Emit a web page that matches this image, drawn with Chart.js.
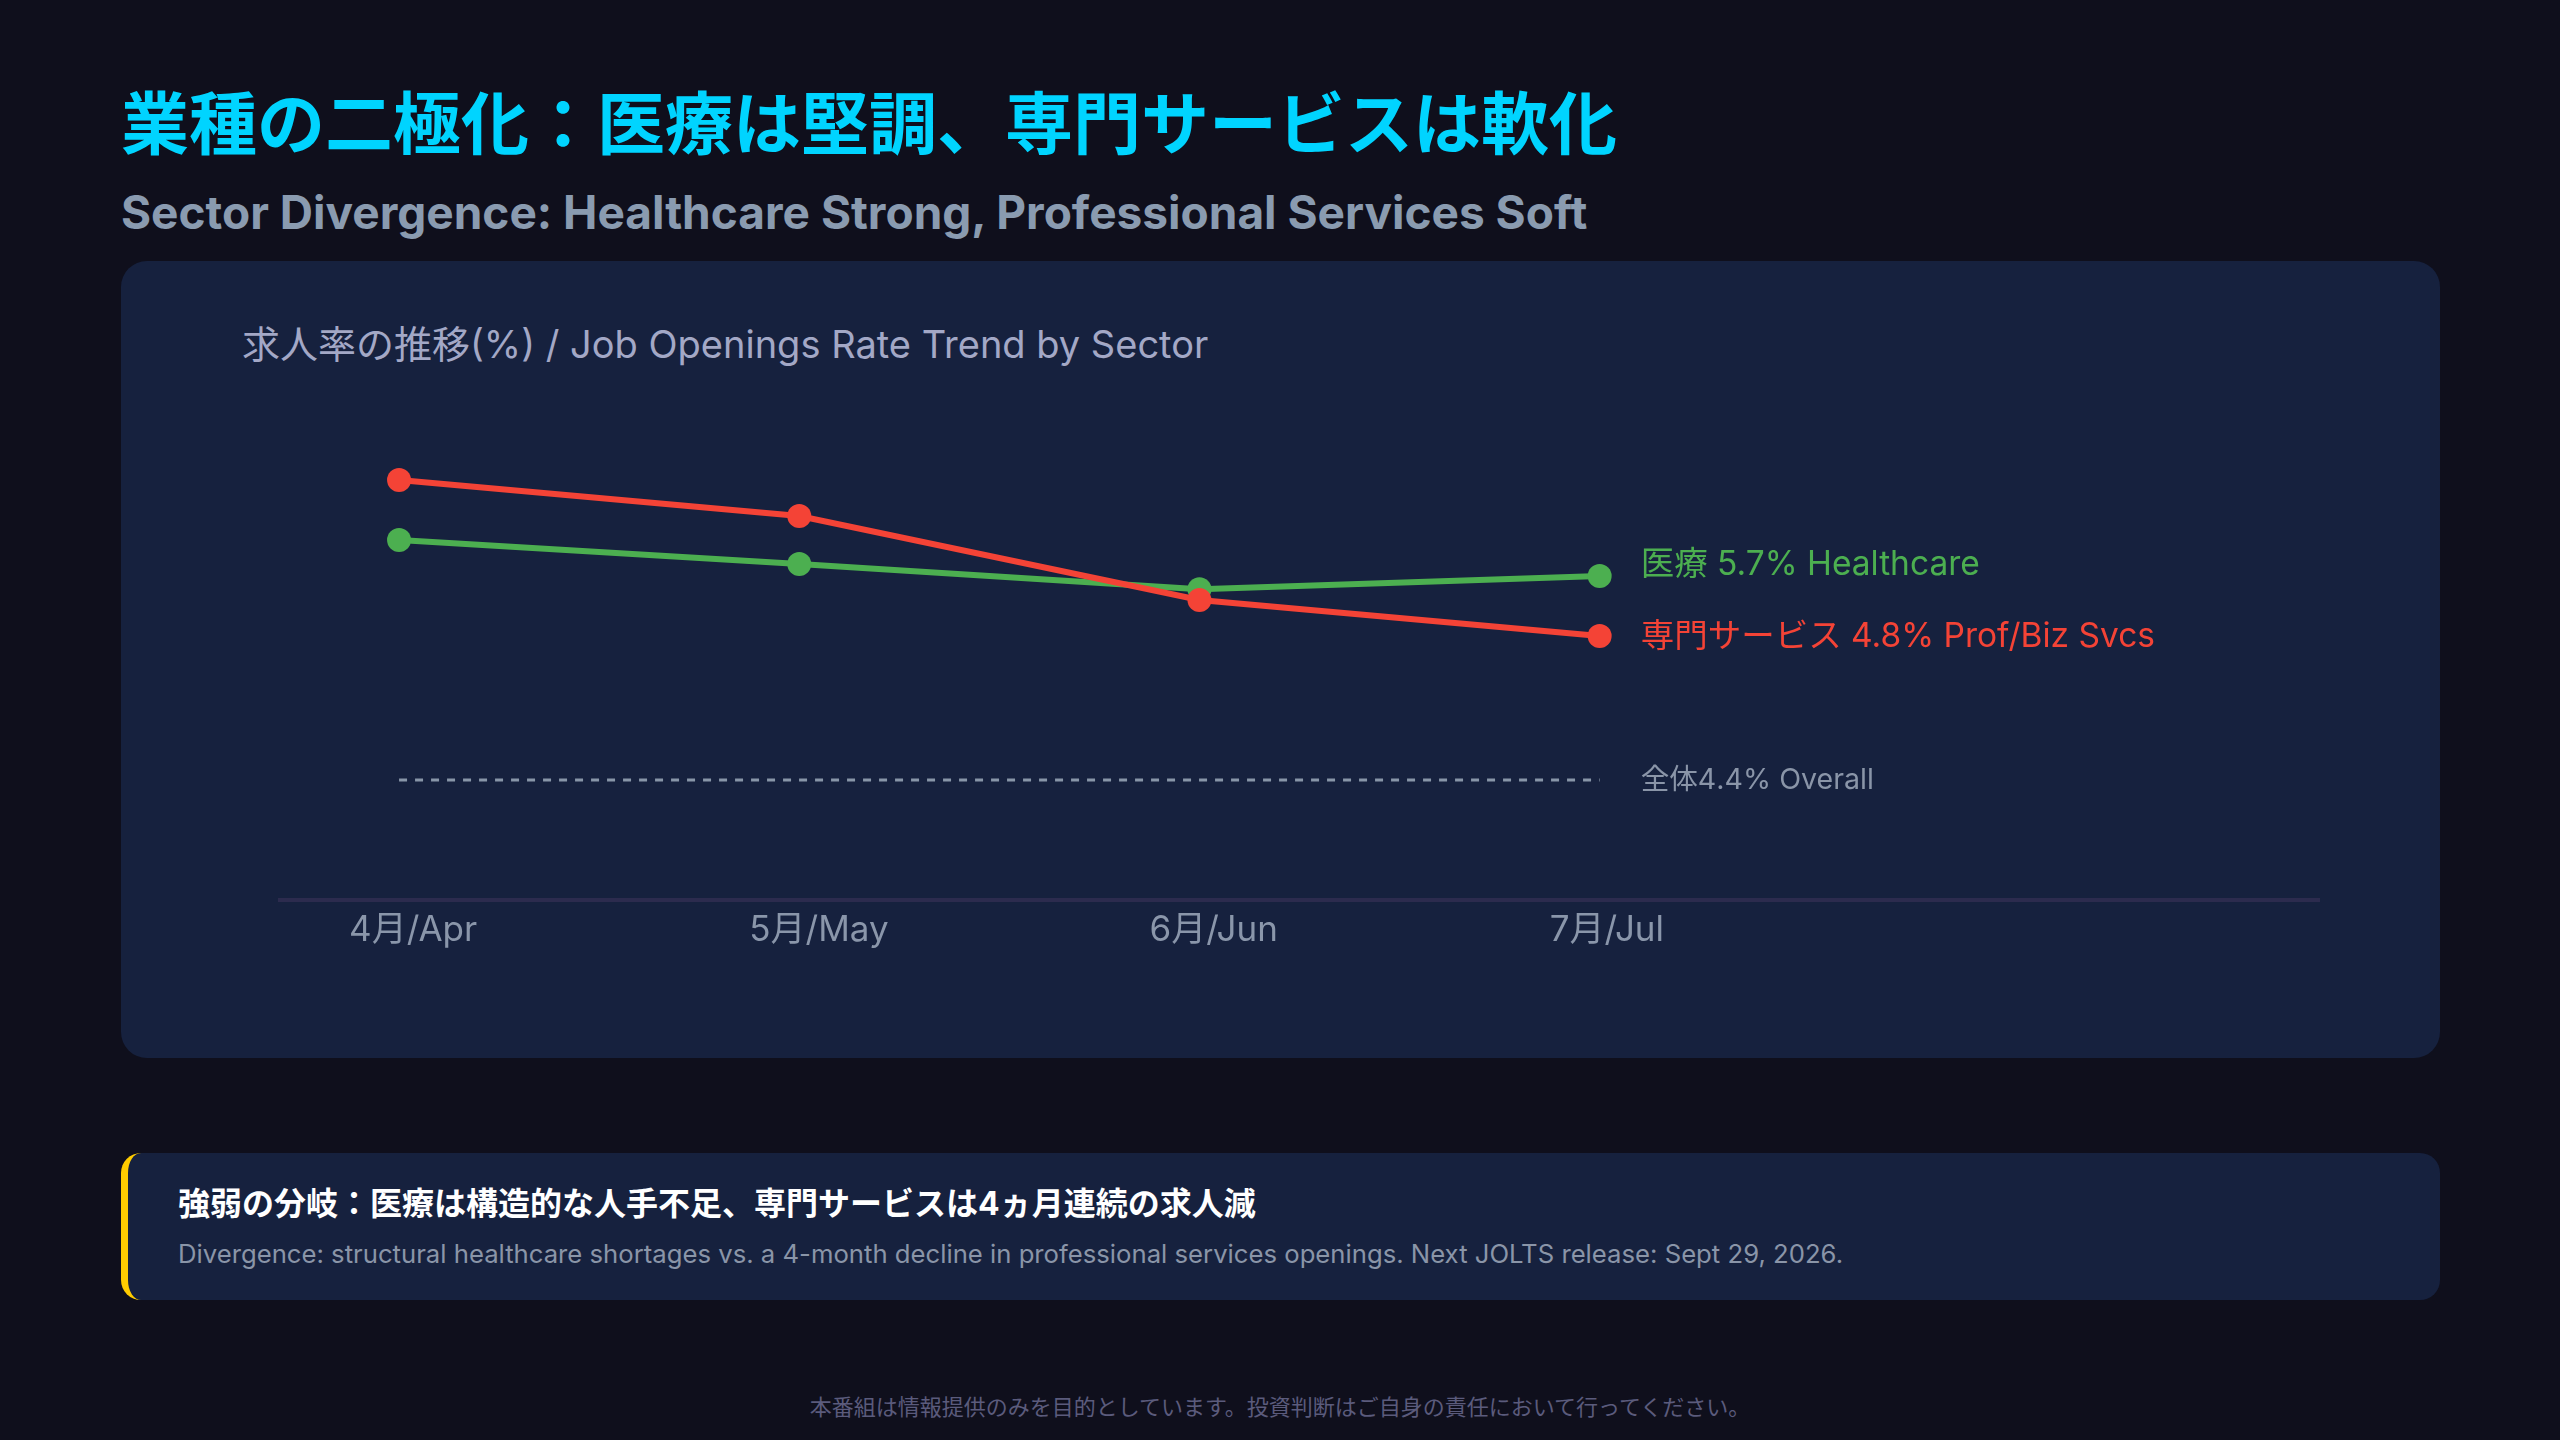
<!DOCTYPE html>
<html lang="ja">
<head>
<meta charset="UTF-8">
<title>業種の二極化</title>
<script src="https://cdn.jsdelivr.net/npm/chart.js"></script>
<style>
  html, body { margin: 0; padding: 0; }
  body {
    width: 2560px; height: 1440px; position: relative; overflow: hidden;
    background: #0f0f1c;
    font-family: Inter, "Noto Sans CJK JP", sans-serif;
  }
  .title { position: absolute; left: 121px; top: 86px; margin: 0; font-family: "Noto Sans CJK JP", sans-serif; font-size: 68px; font-weight: 700; line-height: 1; color: #00d4ff; }
  .subtitle { position: absolute; left: 121px; top: 189px; margin: 0; font-size: 46px; font-weight: 700; line-height: 1; color: #8a9bb0; }
  .card { position: absolute; left: 121px; top: 261px; width: 2319px; height: 797px; background: #16213e; border-radius: 26px; }
  .card h3 { position: absolute; left: 121px; top: 64px; margin: 0; font-size: 38px; font-weight: 400; line-height: 1; color: #a3a8c6; }
  .card canvas { position: absolute; left: 0; top: 0; }
  .note {
    position: absolute; left: 121px; top: 1153px; width: 2319px; height: 147px; box-sizing: border-box;
    background: #16213e; border-left: 7px solid #ffcc00; border-radius: 20px;
  }
  .note .head { position: absolute; left: 50px; top: 35px; font-size: 32px; font-weight: 700; line-height: 1; color: #ffffff; }
  .note .body { position: absolute; left: 50px; top: 88px; font-size: 25.7px; line-height: 1; color: #8a95a8; }
  .footer { position: absolute; left: 0; top: 1394px; width: 2560px; text-align: center; font-family: "Noto Sans CJK JP", sans-serif; font-size: 22px; line-height: 1; color: #5b5b7c; }
</style>
</head>
<body>

<h1 class="title">業種の二極化：医療は堅調、専門サービスは軟化</h1>
<h2 class="subtitle">Sector Divergence: Healthcare Strong, Professional Services Soft</h2>

<div class="card">
  <h3>求人率の推移(%) / Job Openings Rate Trend by Sector</h3>
  <canvas id="chart" width="2319" height="797"></canvas>
</div>

<div class="note">
  <div class="head">強弱の分岐：医療は構造的な人手不足、専門サービスは4ヵ月連続の求人減</div>
  <div class="body">Divergence: structural healthcare shortages vs. a 4-month decline in professional services openings. Next JOLTS release: Sept 29, 2026.</div>
</div>

<div class="footer">本番組は情報提供のみを目的としています。投資判断はご自身の責任において行ってください。</div>

<script>
// data
const months = ['4月/Apr', '5月/May', '6月/Jun', '7月/Jul'];
const profBiz = [7.14, 6.6, 5.34, 4.8];
const healthcare = [6.24, 5.88, 5.5, 5.7];
const overallRate = 4.4;
const endLabels = ['専門サービス 4.8% Prof/Biz Svcs', '医療 5.7% Healthcare', '全体4.4% Overall'];

const FONT = 'Inter, "Noto Sans CJK JP", sans-serif';

const toPoints = arr => arr.map((v, i) => ({ x: i, y: v }));

// text next to the last point of each line
const endLabelPlugin = {
  id: 'endLabels',
  afterDatasetsDraw(chart) {
    const ctx = chart.ctx;
    ctx.save();
    ctx.textAlign = 'left';
    ctx.textBaseline = 'middle';
    chart.data.datasets.forEach((ds, i) => {
      const pts = chart.getDatasetMeta(i).data;
      const last = pts[pts.length - 1];
      ctx.font = ds.endFont;
      ctx.fillStyle = ds.endColor;
      ctx.fillText(ds.endLabel, last.x + 41, last.y + ds.endDy);
    });
    ctx.restore();
  }
};

new Chart(document.getElementById('chart'), {
  type: 'line',
  data: {
    datasets: [
      {
        data: toPoints(profBiz),
        borderColor: '#f44336', backgroundColor: '#f44336',
        borderWidth: 6, pointRadius: 12, pointBorderWidth: 0, pointBackgroundColor: '#f44336',
        tension: 0, yAxisID: 'y',
        endLabel: endLabels[0], endColor: '#f44336', endFont: '33.5px ' + FONT, endDy: 1
      },
      {
        data: toPoints(healthcare),
        borderColor: '#4caf50', backgroundColor: '#4caf50',
        borderWidth: 6, pointRadius: 12, pointBorderWidth: 0, pointBackgroundColor: '#4caf50',
        tension: 0, yAxisID: 'y',
        endLabel: endLabels[1], endColor: '#4caf50', endFont: '33.5px ' + FONT, endDy: -11
      },
      {
        data: months.map((m, i) => ({ x: i, y: overallRate })),
        borderColor: '#8896a8', borderWidth: 3, borderDash: [8, 8],
        pointRadius: 0, tension: 0, yAxisID: 'yOverall',
        endLabel: endLabels[2], endColor: '#8a95a8', endFont: '28.6px ' + FONT, endDy: 0
      }
    ]
  },
  options: {
    responsive: false,
    animation: false,
    devicePixelRatio: 1,
    layout: { padding: { left: 159, right: 121, top: 159, bottom: 98 } },
    plugins: { legend: { display: false }, tooltip: { enabled: false } },
    scales: {
      x: {
        type: 'linear', min: -0.2975, max: 4.7975,
        grid: { display: false, drawTicks: false },
        border: { display: true, color: '#2c2b4e', width: 4 },
        afterBuildTicks: s => { s.ticks = months.map((m, i) => ({ value: i })); },
        afterFit: s => { s.height = 60; },
        ticks: {
          autoSkip: false, maxRotation: 0, align: 'start', labelOffset: -50, padding: 9,
          color: '#8a96aa', font: { size: 35, family: FONT },
          callback: v => months[v]
        }
      },
      y: { display: false, min: 0.84, max: 8.04 },
      yOverall: { display: false, min: 2.4, max: 10.4 }
    }
  },
  plugins: [endLabelPlugin]
});
</script>
</body>
</html>
